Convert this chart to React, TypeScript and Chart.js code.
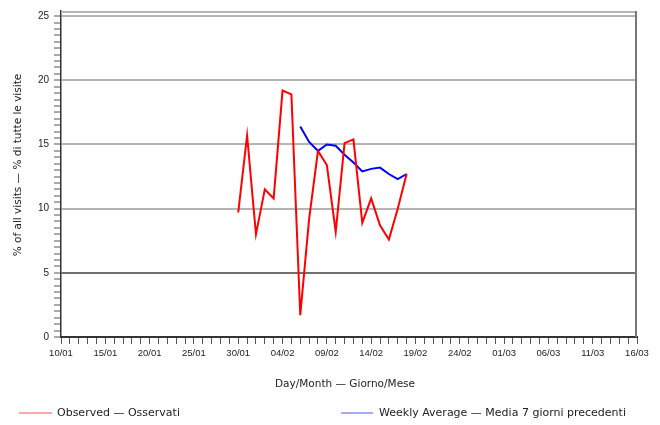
import React, { useEffect, useRef } from 'react';
import { Chart, registerables } from 'chart.js';

Chart.register(...registerables);

// ---- data ----
const xTickLabels = ['10/01', '15/01', '20/01', '25/01', '30/01', '04/02', '09/02', '14/02', '19/02', '24/02', '01/03', '06/03', '11/03', '16/03'];
const totalDays = 65; // 10/01 .. 16/03
const observedStartDay = 20; // 30/01
const observed = [9.7, 15.7, 8.0, 11.5, 10.8, 19.2, 18.9, 1.7, 9.2, 14.5, 13.4, 8.2, 15.1, 15.4, 8.9, 10.8, 8.7, 7.6, 10.0, 12.7];
const weeklyStartDay = 27; // 06/02
const weekly = [16.4, 15.2, 14.5, 15.0, 14.9, 14.2, 13.6, 12.9, 13.1, 13.2, 12.7, 12.3, 12.7];
const yMax = 25.4;
const yTitle = '% of all visits — % di tutte le visite';
const xTitle = 'Day/Month — Giorno/Mese';
const observedLabel = 'Observed — Osservati';
const weeklyLabel = 'Weekly Average — Media 7 giorni precedenti';

const TEXT = '#222';
const FONT = 'DejaVu Sans';

const overlayPlugin = {
  id: 'overlay',
  afterDatasetsDraw(chart: any) {
    const { ctx, chartArea } = chart;
    ctx.save();
    // frame (top + right)
    ctx.strokeStyle = '#b4b4b4';
    ctx.lineWidth = 2;
    ctx.beginPath();
    ctx.moveTo(chartArea.left, chartArea.top + 1);
    ctx.lineTo(chartArea.right, chartArea.top + 1);
    ctx.stroke();
    ctx.strokeStyle = '#777';
    ctx.beginPath();
    ctx.moveTo(chartArea.right - 1, chartArea.top);
    ctx.lineTo(chartArea.right - 1, chartArea.bottom);
    ctx.stroke();
    ctx.restore();
  },
  afterDraw(chart: any) {
    const { ctx } = chart;
    ctx.save();
    ctx.fillStyle = TEXT;
    ctx.textBaseline = 'middle';
    // y title
    ctx.save();
    ctx.translate(18, 165);
    ctx.rotate(-Math.PI / 2);
    ctx.textAlign = 'center';
    ctx.font = `10.5px "${FONT}"`;
    ctx.fillText(yTitle, 0, 0);
    ctx.restore();
    // x title
    ctx.textAlign = 'center';
    ctx.font = `10.5px "${FONT}"`;
    ctx.fillText(xTitle, 345, 384);
    // legend
    ctx.textAlign = 'left';
    ctx.font = `11px "${FONT}"`;
    ctx.lineWidth = 1;
    ctx.strokeStyle = '#ff5050';
    ctx.beginPath();
    ctx.moveTo(19, 413);
    ctx.lineTo(52, 413);
    ctx.stroke();
    ctx.fillText(observedLabel, 57, 413.5);
    ctx.strokeStyle = '#5050ff';
    ctx.beginPath();
    ctx.moveTo(341, 413);
    ctx.lineTo(373, 413);
    ctx.stroke();
    ctx.fillText(weeklyLabel, 379, 413.5);
    ctx.restore();
  },
};

export default function App() {
  const ref = useRef<HTMLCanvasElement | null>(null);

  useEffect(() => {
    if (!ref.current) return;
    const chart = new Chart(ref.current, {
      type: 'line',
      data: {
        datasets: [
          {
            label: observedLabel,
            data: observed.map((v, i) => ({ x: observedStartDay + i, y: v })),
            borderColor: '#ff0000',
            borderWidth: 2,
            pointRadius: 0,
            tension: 0,
          },
          {
            label: weeklyLabel,
            data: weekly.map((v, i) => ({ x: weeklyStartDay + i, y: v })),
            borderColor: '#0000ff',
            borderWidth: 2,
            pointRadius: 0,
            tension: 0,
          },
        ],
      },
      options: {
        animation: false,
        responsive: false,
        layout: { padding: { left: 0, top: 7, right: 23, bottom: 40 } },
        plugins: { legend: { display: false }, tooltip: { enabled: false } },
        scales: {
          x: {
            type: 'linear',
            min: 0,
            max: totalDays,
            afterBuildTicks: (scale: any) => {
              const t = [];
              for (let d = 0; d <= totalDays; d++) t.push({ value: d });
              scale.ticks = t;
            },
            afterFit: (scale: any) => {
              scale.height = 48;
            },
            ticks: {
              autoSkip: false,
              maxRotation: 0,
              minRotation: 0,
              padding: 4,
              color: TEXT,
              font: { family: 'Liberation Sans', size: 9.5 },
              callback: (v: any) => (v % 5 === 0 ? xTickLabels[v / 5] : ''),
            },
            grid: {
              drawOnChartArea: false,
              tickLength: 7,
              tickColor: '#555',
              tickWidth: 1,
            },
            border: { color: '#333', width: 2 },
          },
          y: {
            type: 'linear',
            min: 0,
            max: yMax,
            afterBuildTicks: (scale: any) => {
              const t = [];
              for (let k = 0; k <= 50; k++) t.push({ value: k / 2 });
              scale.ticks = t;
            },
            afterFit: (scale: any) => {
              scale.width = 61;
            },
            ticks: {
              autoSkip: false,
              padding: 5,
              color: TEXT,
              font: { family: 'Liberation Sans', size: 10 },
              callback: (v: any) => (v % 5 === 0 ? String(v) : ''),
            },
            grid: {
              color: (c: any) => {
                const v = c.tick ? c.tick.value : -1;
                if (v === 5) return '#707070';
                if (v > 0 && v % 5 === 0) return '#b4b4b4';
                return 'rgba(0,0,0,0)';
              },
              lineWidth: 2,
              tickLength: 7,
              tickColor: '#555',
              tickWidth: 1,
            },
            border: { color: '#333', width: 1.5 },
          },
        },
      },
      plugins: [overlayPlugin],
    });
    return () => chart.destroy();
  }, []);

  return (
    <div style={{ position: 'absolute', left: 0, top: 0, width: 660, height: 425, background: '#fff' }}>
      <canvas ref={ref} width={660} height={425} />
    </div>
  );
}
